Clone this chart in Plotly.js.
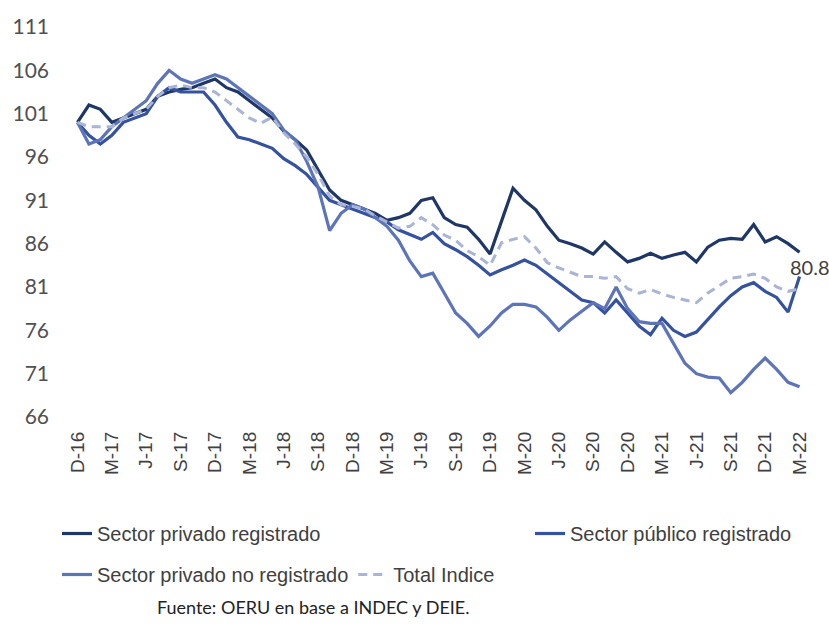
<!DOCTYPE html>
<html>
<head>
<meta charset="utf-8">
<script src="https://cdn.plot.ly/plotly-3.0.1.min.js"></script>
<style>html,body{margin:0;padding:0;background:#fff;}#chart{width:829px;height:633px;}</style>
</head>
<body>
<div id="chart"></div>
<script>
// Months Dec-2016 .. Mar-2022 (64 monthly points)
const months = ["D-16","E-17","F-17","M-17","A-17","M-17","J-17","J-17","A-17","S-17","O-17","N-17",
  "D-17","E-18","F-18","M-18","A-18","M-18","J-18","J-18","A-18","S-18","O-18","N-18",
  "D-18","E-19","F-19","M-19","A-19","M-19","J-19","J-19","A-19","S-19","O-19","N-19",
  "D-19","E-20","F-20","M-20","A-20","M-20","J-20","J-20","A-20","S-20","O-20","N-20",
  "D-20","E-21","F-21","M-21","A-21","M-21","J-21","J-21","A-21","S-21","O-21","N-21",
  "D-21","E-22","F-22","M-22"];
const tickIdx = [0,3,6,9,12,15,18,21,24,27,30,33,36,39,42,45,48,51,54,57,60,63];
const tickLabels = ["D-16","M-17","J-17","S-17","D-17","M-18","J-18","S-18","D-18","M-19","J-19","S-19",
  "D-19","M-20","J-20","S-20","D-20","M-21","J-21","S-21","D-21","M-22"];

const privadoRegistrado = [100,102,101.5,100,100.5,101,101.5,103,103.5,103.8,104,104.5,
  105,104,103.5,102.5,101.5,100.5,99,98,96.8,94.5,92.2,91,
  90.5,90,89.5,88.7,89,89.5,91,91.3,89,88.2,87.9,86.5,
  84.8,88.6,92.4,91,89.9,88,86.4,86,85.5,84.8,86.2,85,
  83.9,84.3,84.9,84.3,84.7,85,83.9,85.6,86.4,86.6,86.5,88.2,
  86.2,86.8,86,85];
const publicoRegistrado = [100,98.5,97.5,98.5,100,100.5,101,103,104,103.5,103.5,103.5,
  102,100,98.3,98,97.5,97,95.8,95,94,92.5,91,90.5,
  90,89.5,89,88.5,87.6,87,86.5,87.3,86,85.3,84.5,83.5,
  82.4,83,83.5,84.1,83.5,82.5,81.5,80.5,79.5,79.2,78,79.5,
  78,76.5,75.5,77.4,76,75.3,75.8,77.3,78.7,80,81,81.5,
  80.5,79.8,78.1,82.2];
const privadoNoRegistrado = [100,97.5,98,99.5,100.5,101.5,102.5,104.5,106,105,104.5,105,
  105.5,105,104,103,102,101,99.1,98,95.5,92.5,87.5,89.5,
  90.5,90,89,88,86.4,84,82.2,82.6,80.3,78,76.8,75.3,
  76.5,78,79,79,78.7,77.5,76,77.2,78.2,79.2,78.5,81,
  78.5,77,76.8,76.8,74.5,72.2,71,70.6,70.5,68.8,70,71.5,
  72.8,71.5,70,69.5];
const totalIndice = [100,99.5,99.5,99.5,100.5,101,101.5,103,104,104.3,104,104,
  103.5,102.5,101.5,100.5,99.9,100.6,98.8,97.5,96,94,91.5,90.5,
  90.3,90,89.2,88.5,87.8,88,89,88.2,87,86.4,85.2,84.5,
  83.5,86.1,86.5,86.8,85.5,83.8,83.2,82.7,82.2,82.2,82,82.2,
  80.8,80.3,80.7,80.2,79.8,79.5,79.2,80.3,81.2,82,82.2,82.5,
  82,81,80.5,80.8];
const lastLabel = "80.8";

const xIdx = months.map((m,i)=>i);

const legFont = {family:"Liberation Sans, Arial, sans-serif", size:20, color:"#404040"};

const traces = [
  {x:xIdx, y:privadoRegistrado, name:"Sector privado registrado", type:"scatter", mode:"lines",
   line:{color:"#1f3766", width:3.2}, legend:"legend", hoverinfo:"y"},
  {x:xIdx, y:publicoRegistrado, name:"Sector público registrado", type:"scatter", mode:"lines",
   line:{color:"#3552a0", width:3.2}, legend:"legend3", hoverinfo:"y"},
  {x:xIdx, y:privadoNoRegistrado, name:"Sector privado no registrado", type:"scatter", mode:"lines",
   line:{color:"#5d74b8", width:3.2}, legend:"legend2", hoverinfo:"y"},
  {x:xIdx, y:totalIndice, name:"Total Indice", type:"scatter", mode:"lines",
   line:{color:"#a9b4d6", width:3, dash:"9px,6px"}, legend:"legend2", hoverinfo:"y"}
];

const layout = {
  width:829, height:633,
  margin:{l:66, r:18, t:27, b:216},
  paper_bgcolor:"#ffffff", plot_bgcolor:"#ffffff",
  showlegend:true,
  xaxis:{range:[-1,64], tickmode:"array", tickvals:tickIdx, ticktext:tickLabels, tickangle:-90,
    showgrid:false, zeroline:false, showline:false, ticks:"", ticklabelstandoff:10,
    tickfont:{family:"Liberation Sans, Arial, sans-serif", size:19, color:"#404040"}},
  yaxis:{range:[66,111], tickmode:"array", tickvals:[66,71,76,81,86,91,96,101,106,111],
    showgrid:false, zeroline:false, showline:false, ticks:"", ticklabelstandoff:16,
    tickfont:{family:"Lato, sans-serif", size:21, color:"#505050"}},
  legend:{orientation:"h", xref:"container", yref:"container", x:57/829, y:1-514/633,
    xanchor:"left", yanchor:"top", itemwidth:30, font:legFont, bgcolor:"rgba(0,0,0,0)"},
  legend3:{orientation:"h", xref:"container", yref:"container", x:530/829, y:1-514/633,
    xanchor:"left", yanchor:"top", itemwidth:30, font:legFont, bgcolor:"rgba(0,0,0,0)"},
  legend2:{orientation:"h", xref:"container", yref:"container", x:57/829, y:1-555/633,
    xanchor:"left", yanchor:"top", itemwidth:30, font:legFont, bgcolor:"rgba(0,0,0,0)"},
  annotations:[
    {x:63, y:totalIndice[63], xref:"x", yref:"y", text:lastLabel, showarrow:false,
     xanchor:"left", yanchor:"middle", xshift:-12, yshift:22,
     font:{family:"Lato, sans-serif", size:20, color:"#404040"}},
    {xref:"paper", yref:"paper", x:(155-66)/745, y:-(607-417)/390, text:"Fuente: OERU en base a INDEC y DEIE.",
     showarrow:false, xanchor:"left", yanchor:"middle",
     font:{family:"Lato, sans-serif", size:18, color:"#222222"}}
  ]
};

Plotly.newPlot("chart", traces, layout, {displayModeBar:false, staticPlot:true});
</script>
</body>
</html>
